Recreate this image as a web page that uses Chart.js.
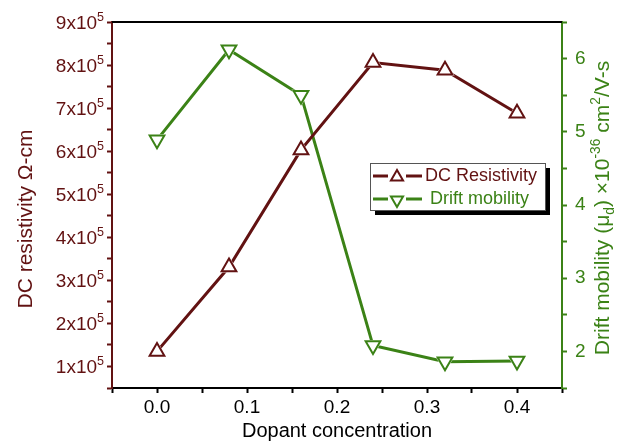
<!DOCTYPE html>
<html>
<head>
<meta charset="utf-8">
<script src="https://cdn.jsdelivr.net/npm/chart.js@4.4.0/dist/chart.umd.min.js"></script>
<style>
  html, body { margin: 0; padding: 0; background: #fff; }
</style>
</head>
<body>
<canvas id="chart" width="624" height="445"></canvas>
<script>
// dopant concentration vs resistivity / drift mobility
var concentration = [0.0, 0.08, 0.16, 0.24, 0.32, 0.40];
var resistivity   = [1.35e5, 3.31e5, 6.03e5, 8.06e5, 7.88e5, 6.88e5];
var mobility      = [4.89, 6.12, 5.50, 2.08, 1.86, 1.87];

var xTicks   = [0.0, 0.1, 0.2, 0.3, 0.4];
var resTicks = [1e5, 2e5, 3e5, 4e5, 5e5, 6e5, 7e5, 8e5, 9e5];
var mobTicks = [2, 3, 4, 5, 6];

var MAROON = '#621212';
var GREEN  = '#3b8216';
var FONT   = '"Liberation Sans", Arial, sans-serif';

function pts(ys) {
    return concentration.map(function (x, i) { return { x: x, y: ys[i] }; });
}
function isTick(list, v) {
    for (var i = 0; i < list.length; i++) {
        if (Math.abs(list[i] - v) < 1e-6 * Math.max(1, Math.abs(v))) return true;
    }
    return false;
}

// write a run of text with sub/superscripts, centred on (cx, cy), rotated
function richText(ctx, parts, cx, cy, size, color, angle, align) {
    ctx.save();
    ctx.translate(cx, cy);
    ctx.rotate(angle);
    ctx.fillStyle = color;
    ctx.textBaseline = 'alphabetic';
    var total = 0;
    parts.forEach(function (p) {
        var s = p[1] === 'n' ? size : size * 0.66;
        ctx.font = s + 'px ' + FONT;
        p.w = ctx.measureText(p[0]).width;
        total += p.w;
    });
    var x = align === 'right' ? -total : -total / 2;
    var base = size * 0.36;
    parts.forEach(function (p) {
        var s = p[1] === 'n' ? size : size * 0.66;
        var dy = p[1] === 'sup' ? -size * 0.42 : (p[1] === 'sub' ? size * 0.25 : 0);
        ctx.font = s + 'px ' + FONT;
        ctx.fillText(p[0], x, base + dy);
        x += p.w;
    });
    ctx.restore();
}

var extras = {
    id: 'extras',
    afterDraw: function (chart) {
        var ctx = chart.ctx;
        var a = chart.chartArea;

        // top frame line
        ctx.save();
        ctx.strokeStyle = '#000';
        ctx.lineWidth = 2;
        ctx.beginPath();
        ctx.moveTo(a.left, a.top);
        ctx.lineTo(a.right, a.top);
        ctx.stroke();
        ctx.restore();

        // left tick labels as "Nx10^5"
        var yRes = chart.scales.yRes;
        resTicks.forEach(function (v) {
            var y = yRes.getPixelForValue(v);
            richText(ctx, [[String(Math.round(v / 1e5)) + 'x10', 'n'], ['5', 'sup']],
                     104, y, 19, MAROON, 0, 'right');
        });

        // axis titles
        richText(ctx, [['DC resistivity \u03A9-cm', 'n']], 24, 219, 21, MAROON, -Math.PI / 2);
        richText(ctx, [
            ['Drift mobility (\u03BC', 'n'], ['d', 'sub'], [') \u00D710', 'n'],
            ['-36', 'sup'], [' cm', 'n'], ['2', 'sup'], ['/V-s', 'n']
        ], 601, 208, 21, GREEN, -Math.PI / 2);

        // legend box with drop shadow
        var bx = 370, by = 163, bw = 175, bh = 47;
        ctx.save();
        ctx.fillStyle = '#000';
        ctx.fillRect(bx + 5, by + 5, bw, bh);
        ctx.fillStyle = '#fff';
        ctx.fillRect(bx, by, bw, bh);
        ctx.strokeStyle = '#555';
        ctx.lineWidth = 1;
        ctx.strokeRect(bx + 0.5, by + 0.5, bw, bh);

        var rows = [
            { label: 'DC Resistivity', color: MAROON, y: 176, rot: 0, tx: 425 },
            { label: 'Drift mobility', color: GREEN, y: 199, rot: Math.PI, tx: 430 }
        ];
        rows.forEach(function (r) {
            ctx.strokeStyle = r.color;
            ctx.lineWidth = 3;
            ctx.beginPath();
            ctx.moveTo(373, r.y); ctx.lineTo(388, r.y);
            ctx.moveTo(406, r.y); ctx.lineTo(422, r.y);
            ctx.stroke();
            ctx.lineWidth = 2;
            ctx.fillStyle = '#fff';
            var rad = 7;
            ctx.beginPath();
            for (var k = 0; k < 3; k++) {
                var ang = r.rot + k * 2 * Math.PI / 3;
                var px = 397 + Math.sin(ang) * rad;
                var py = r.y + 1 - Math.cos(ang) * rad;
                if (k === 0) ctx.moveTo(px, py); else ctx.lineTo(px, py);
            }
            ctx.closePath();
            ctx.fill();
            ctx.stroke();
            ctx.fillStyle = r.color;
            ctx.font = '18px ' + FONT;
            ctx.textBaseline = 'middle';
            ctx.fillText(r.label, r.tx, r.y);
        });
        ctx.restore();
    }
};

var ctx = document.getElementById('chart').getContext('2d');
var myChart = new Chart(ctx, {
    type: 'line',
    data: {
        datasets: [{
            data: pts(resistivity), yAxisID: 'yRes', order: 3,
            borderColor: MAROON, borderWidth: 3, pointRadius: 0
        }, {
            data: pts(mobility), yAxisID: 'yMob', order: 3,
            borderColor: GREEN, borderWidth: 3, pointRadius: 0
        }, {
            data: pts(resistivity), yAxisID: 'yRes', order: 2, showLine: false,
            pointStyle: 'triangle', pointRadius: 11,
            pointBackgroundColor: '#fff', pointBorderColor: '#fff', pointBorderWidth: 0
        }, {
            data: pts(mobility), yAxisID: 'yMob', order: 2, showLine: false,
            pointStyle: 'triangle', pointRotation: 180, pointRadius: 11,
            pointBackgroundColor: '#fff', pointBorderColor: '#fff', pointBorderWidth: 0
        }, {
            data: pts(resistivity), yAxisID: 'yRes', order: 1, showLine: false,
            pointStyle: 'triangle', pointRadius: 8.5,
            pointBackgroundColor: '#fff', pointBorderColor: MAROON, pointBorderWidth: 2
        }, {
            data: pts(mobility), yAxisID: 'yMob', order: 1, showLine: false,
            pointStyle: 'triangle', pointRotation: 180, pointRadius: 8.5,
            pointBackgroundColor: '#fff', pointBorderColor: GREEN, pointBorderWidth: 2
        }]
    },
    options: {
        responsive: false,
        animation: false,
        layout: { padding: { top: 22, left: 0, right: 0, bottom: 0 } },
        plugins: {
            legend: { display: false },
            tooltip: { enabled: false }
        },
        scales: {
            x: {
                type: 'linear',
                min: -0.05, max: 0.45,
                afterFit: function (s) { s.height = 57; },
                border: { color: '#000', width: 2 },
                grid: { drawOnChartArea: false, drawTicks: true, tickLength: 5, tickColor: '#000', tickWidth: 2 },
                ticks: {
                    stepSize: 0.05, autoSkip: false, maxRotation: 0, padding: 3,
                    color: '#000', font: { family: FONT, size: 19 },
                    callback: function (v) { return isTick(xTicks, v) ? (Math.round(v * 10) / 10).toFixed(1) : ''; }
                },
                title: {
                    display: true, text: 'Dopant concentration', color: '#000',
                    font: { family: FONT, size: 20 }, padding: { top: 0, bottom: 2 }
                }
            },
            yRes: {
                position: 'left',
                min: 0.5e5, max: 9e5,
                afterFit: function (s) { s.width = 112; },
                border: { color: MAROON, width: 2 },
                grid: { drawOnChartArea: false, drawTicks: true, tickLength: 5, tickColor: MAROON, tickWidth: 2 },
                ticks: {
                    stepSize: 0.5e5, autoSkip: false, padding: 4,
                    color: MAROON, font: { family: FONT, size: 19 },
                    // labels are written by the extras plugin
                    callback: function () { return ''; }
                }
            },
            yMob: {
                position: 'right',
                min: 1.5, max: 6.5,
                afterFit: function (s) { s.width = 62; },
                border: { color: GREEN, width: 2 },
                grid: { drawOnChartArea: false, drawTicks: true, tickLength: 5, tickColor: GREEN, tickWidth: 2 },
                ticks: {
                    stepSize: 0.5, autoSkip: false, padding: 8,
                    color: GREEN, font: { family: FONT, size: 19 },
                    callback: function (v) { return isTick(mobTicks, v) ? String(Math.round(v)) : ''; }
                }
            }
        }
    },
    plugins: [extras]
});
</script>
</body>
</html>
